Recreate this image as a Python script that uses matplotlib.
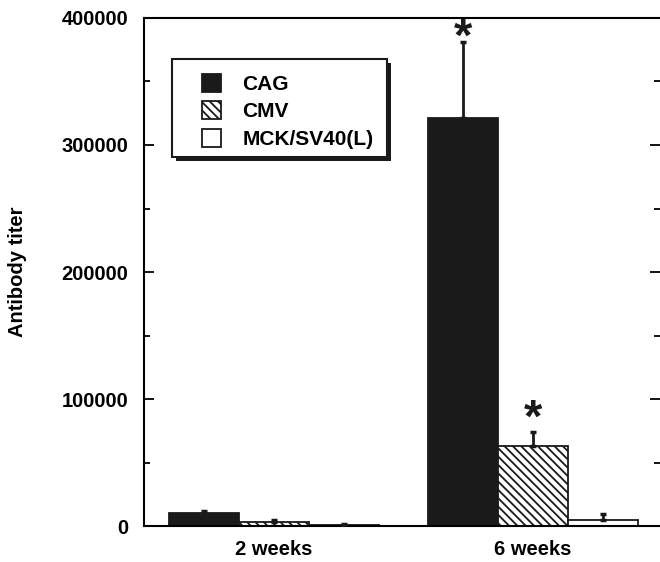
import matplotlib
matplotlib.use("Agg")
import matplotlib.pyplot as plt
from matplotlib.patches import Rectangle
from matplotlib.ticker import MultipleLocator
import numpy as np

plt.rcParams['font.family'] = ['Liberation Sans', 'DejaVu Sans']
plt.rcParams['font.weight'] = 'bold'
plt.rcParams['hatch.linewidth'] = 1.3

# data
groups = ['2 weeks', '6 weeks']
series = ['CAG', 'CMV', 'MCK/SV40(L)']
values = {
    'CAG': [10000, 321000],
    'CMV': [3500, 63000],
    'MCK/SV40(L)': [600, 4700],
}
errors = {
    'CAG': [2000, 60000],
    'CMV': [1500, 11000],
    'MCK/SV40(L)': [1200, 4500],
}
# significance stars: (group index, series, y of star)
stars = [(1, 'CAG', 384000), (1, 'CMV', 84000)]

fills = {'CAG': '#1a1a1a', 'CMV': 'white', 'MCK/SV40(L)': 'white'}
hatches = {'CAG': None, 'CMV': '\\\\\\\\', 'MCK/SV40(L)': None}
ink = '#1a1a1a'

fig = plt.figure(figsize=(6.6, 5.62), dpi=100)
ax = fig.add_axes([0.218, 0.064, 0.782, 0.904])

x = np.arange(len(groups))
w = 0.27
offsets = {'CAG': -w, 'CMV': 0.0, 'MCK/SV40(L)': w}

for s in series:
    xs = x + offsets[s]
    ax.bar(xs, values[s], width=w, color=fills[s], edgecolor=ink,
           hatch=hatches[s], linewidth=1.3, label=s, zorder=2)
    ax.errorbar(xs, values[s], yerr=[np.zeros(len(x)), errors[s]], fmt='none',
                ecolor=ink, elinewidth=2, capsize=2.5, capthick=2.5, zorder=3)

for gi, s, ys in stars:
    ax.text(x[gi] + offsets[s], ys, '*', ha='center', va='center',
            fontsize=34, fontweight='bold', color=ink, zorder=4)

ax.set_xlim(-0.502, 1.49)
ax.set_ylim(0, 400000)
ax.set_xticks(x)
ax.set_xticklabels(groups, fontsize=14.5, fontweight='bold')
ax.yaxis.set_major_locator(MultipleLocator(100000))
ax.yaxis.set_minor_locator(MultipleLocator(50000))
ax.tick_params(axis='y', which='major', direction='in', length=7, width=1.3,
               labelsize=14.5, pad=11, right=True)
ax.tick_params(axis='y', which='minor', direction='in', length=4, width=1.3, right=True)
ax.tick_params(axis='x', length=0, pad=10)
for lab in ax.get_yticklabels():
    lab.set_fontweight('bold')

for sp in ['left', 'bottom', 'top']:
    ax.spines[sp].set_linewidth(1.5)
ax.spines['right'].set_visible(False)

ax.set_ylabel('Antibody titer', fontsize=14.5, fontweight='bold')
ax.yaxis.set_label_coords(-0.226, 0.5)

# legend box with a solid drop shadow
bx, by, bw, bh = 0.054, 0.726, 0.417, 0.193
ax.add_patch(Rectangle((bx + 0.008, by - 0.008), bw, bh, transform=ax.transAxes,
                       facecolor=ink, edgecolor='none', zorder=5, clip_on=False))
ax.add_patch(Rectangle((bx, by), bw, bh, transform=ax.transAxes,
                       facecolor='white', edgecolor=ink, linewidth=1.5, zorder=5))
leg = ax.legend(loc='upper left', bbox_to_anchor=(0.112, 0.890), borderaxespad=0,
                frameon=False, prop={'weight': 'bold', 'size': 15},
                handlelength=0.95, handleheight=0.95, handletextpad=1.0,
                labelspacing=0.35, borderpad=0)
leg.set_zorder(6)

fig.savefig('out.png', dpi=100)
